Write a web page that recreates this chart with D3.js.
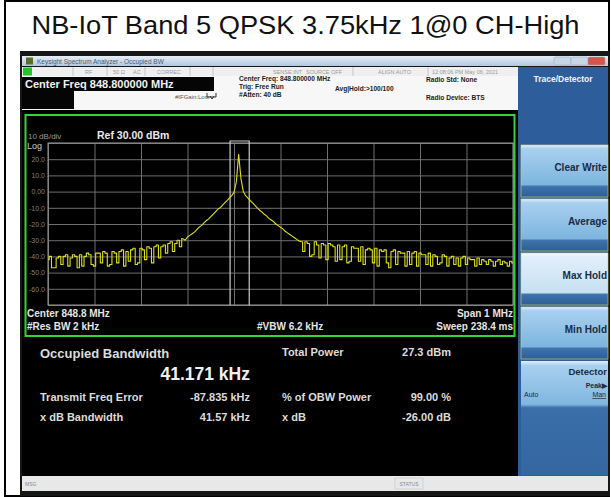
<!DOCTYPE html>
<html>
<head>
<meta charset="utf-8">
<script src="https://cdn.jsdelivr.net/npm/d3@7"></script>
<style>
  body { margin: 0; background: #fff; }
  svg text { font-family: "Liberation Sans", Arial, sans-serif; }
</style>
</head>
<body>
<div id="container"></div>
<script>

// Chart data
var chartTitle = "NB-IoT Band 5 QPSK 3.75kHz 1@0 CH-High";

var centerFreqMHz = 848.8,
    spanMHz = 1,
    refLevel = 30,
    bottomLevel = -70;

// Max Hold trace, one level per sweep point (dBm), 5 kHz apart from 848.3 MHz
var sweepStartMHz = 848.3,
    sweepStepkHz = 5;

var traceLevels = [
  -42, -40, -47, -47, -41, -40, -45, -40, -39, -46,
  -41, -39, -40, -47, -39, -46, -40, -38, -39, -45,
  -46, -38, -38, -44, -37, -38, -46, -45, -37, -38,
  -44, -37, -36, -46, -37, -43, -36, -35, -45, -44,
  -35, -36, -42, -34, -35, -44, -34, -33, -41, -34,
  -33, -38, -32, -31, -37, -32, -30, -34, -29, -30,
  -28, -27, -26, -25, -23.5, -22, -21, -19.5, -18, -17,
  -15.5, -14, -12.5, -11, -10, -8.5, -7, -5.5, -4, -2.5,
  -0.5, 6, 23, 8, 0, -2.5, -4, -5.5, -7, -8.5,
  -10, -11.5, -12.5, -14, -15, -16.5, -17.5, -18.5, -20, -21,
  -22, -23, -24.5, -25.5, -26.5, -27.5, -28.5, -29.5, -30.5,
  -31, -37, -31, -32, -40, -39, -31, -33, -41, -32,
  -33, -42, -32, -33, -34, -43, -33, -42, -34, -33,
  -44, -43, -34, -35, -35, -43, -34, -45, -36, -35,
  -36, -44, -35, -46, -36, -37, -36, -44, -47, -37,
  -36, -45, -37, -38, -38, -46, -37, -45, -38, -37,
  -46, -38, -39, -39, -45, -38, -46, -39, -40, -45,
  -44, -39, -40, -46, -41, -40, -45, -41, -46, -41,
  -40, -45, -41, -42, -42, -46, -41, -45, -42, -43,
  -45, -42, -43, -46, -43, -42, -45, -43, -44, -46, -43, -44
];

// sweep points where the trace leaves the noise floor (skirt of the carrier)
var skirtStart = 58,
    skirtEnd = 109;

// Occupied bandwidth measurement
var obwFreqErrorkHz = -87.835,
    obwWidthkHz = 41.171;

var yTickValues = [20, 10, 0, -10, -20, -30, -40, -50, -60];
var yTickLabels = ["20.0", "10.0", "0.00", "-10.0", "-20.0", "-30.0", "-40.0", "-50.0", "-60.0"];

var resultLeftNames = ["Transmit Freq Error", "x dB Bandwidth"];
var resultLeftValues = ["-87.835 kHz", "41.57 kHz"];
var resultRightNames = ["Total Power", "% of OBW Power", "x dB"];
var resultRightValues = ["27.3 dBm", "99.00 %", "-26.00 dB"];

var softkeyLabels = ["Clear Write", "Average", "Max Hold", "Min Hold"];
var activeSoftkey = "Max Hold";

var statusLeft = ["RF", "50 \u03A9", "AC", "CORREC"];
var statusRight = ["SENSE:INT", "SOURCE OFF", "ALIGN AUTO", "12:08:06 PM May 06, 2021"];


var width = 611,
    height = 497;

var svg = d3.select("#container").append("svg")
  .attr("width", width)
  .attr("height", height);

var defs = svg.append("defs");

function addGradient(id, stops) {
  var g = defs.append("linearGradient")
    .attr("id", id)
    .attr("x1", 0).attr("y1", 0)
    .attr("x2", 0).attr("y2", 1);
  stops.forEach(function(s) {
    g.append("stop").attr("offset", s[0]).attr("stop-color", s[1]);
  });
}

addGradient("keyGrad", [[0, "#e2f0fb"], [0.07, "#a8d0ef"], [0.76, "#7db5df"], [0.8, "#3c72ab"], [1, "#2e5e96"]]);
addGradient("keyGradActive", [[0, "#f6fafd"], [0.07, "#e2effa"], [0.76, "#c6e0f3"], [0.8, "#3c72ab"], [1, "#2e5e96"]]);
addGradient("detGrad", [[0, "#e2f0fb"], [0.04, "#a8d0ef"], [0.38, "#80b6df"], [0.41, "#3b6fa9"], [1, "#34669f"]]);
addGradient("titleBarGrad", [[0, "#e6eef7"], [1, "#b2c7de"]]);

// Outer frame and title
svg.append("rect")
  .attr("x", 5).attr("y", 1)
  .attr("width", 604).attr("height", 495)
  .attr("fill", "#fff")
  .attr("stroke", "#000")
  .attr("stroke-width", 2);

svg.append("text")
  .attr("x", width / 2)
  .attr("y", 34)
  .attr("text-anchor", "middle")
  .attr("textLength", 548)
  .attr("lengthAdjust", "spacingAndGlyphs")
  .style("font-size", "26px")
  .attr("fill", "#111")
  .text(chartTitle);

// Screenshot background
svg.append("rect")
  .attr("x", 20).attr("y", 51)
  .attr("width", 590).attr("height", 445)
  .attr("fill", "#161616");

// Window title bar
svg.append("rect")
  .attr("x", 22).attr("y", 56)
  .attr("width", 586).attr("height", 10)
  .attr("fill", "url(#titleBarGrad)");
svg.append("rect")
  .attr("x", 26).attr("y", 57.5)
  .attr("width", 7).attr("height", 7)
  .attr("fill", "#5a6e2a");
svg.append("text")
  .attr("x", 37).attr("y", 63.5)
  .style("font-size", "6.5px")
  .attr("fill", "#4a5a70")
  .text("Keysight Spectrum Analyzer - Occupied BW");

var winButtons = [["#c9d6e4", 554], ["#c9d6e4", 571], ["#d8544a", 588]];
winButtons.forEach(function(b) {
  svg.append("rect")
    .attr("x", b[1]).attr("y", 57)
    .attr("width", 17).attr("height", 8)
    .attr("rx", 1.5)
    .attr("fill", b[0])
    .attr("stroke", "#8fa3bb")
    .attr("stroke-width", 0.5);
});

// Status row
svg.append("rect")
  .attr("x", 22).attr("y", 67)
  .attr("width", 496).attr("height", 9)
  .attr("fill", "#efefef");
svg.append("rect")
  .attr("x", 23).attr("y", 67.5)
  .attr("width", 9).attr("height", 8)
  .attr("fill", "#27c427");

var statusSeparators = [73, 107, 145, 190, 213, 353, 428];
statusSeparators.forEach(function(x) {
  svg.append("line")
    .attr("x1", x).attr("x2", x)
    .attr("y1", 67).attr("y2", 76)
    .attr("stroke", "#bdbdbd")
    .attr("stroke-width", 0.8);
});

var statusLeftX = [85, 113, 133, 157];
statusLeft.forEach(function(t, i) {
  svg.append("text")
    .attr("x", statusLeftX[i]).attr("y", 74)
    .style("font-size", "5.5px")
    .attr("fill", "#9a9a9a")
    .text(t);
});
var statusRightX = [273, 306, 378, 432];
statusRight.forEach(function(t, i) {
  svg.append("text")
    .attr("x", statusRightX[i]).attr("y", 74)
    .style("font-size", "5.5px")
    .attr("fill", "#9a9a9a")
    .text(t);
});

// Header with settings
svg.append("rect")
  .attr("x", 22).attr("y", 76)
  .attr("width", 496).attr("height", 34)
  .attr("fill", "#f7f7f7");
svg.append("rect")
  .attr("x", 22).attr("y", 77)
  .attr("width", 192).attr("height", 14)
  .attr("fill", "#050505");
svg.append("rect")
  .attr("x", 22).attr("y", 91)
  .attr("width", 52).attr("height", 18)
  .attr("fill", "#050505");
svg.append("text")
  .attr("x", 25).attr("y", 88)
  .style("font-size", "11px")
  .style("font-weight", "bold")
  .attr("fill", "#f2f2f2")
  .text("Center Freq " + centerFreqMHz.toFixed(6) + " MHz");

svg.append("text")
  .attr("x", 175).attr("y", 99)
  .style("font-size", "6px")
  .attr("fill", "#555")
  .text("#IFGain:Low");
svg.append("path")
  .attr("d", "M207,93 L207,97 L216,97 L216,93 M210,96 L212,99 L214,96")
  .attr("fill", "none")
  .attr("stroke", "#333")
  .attr("stroke-width", 1);

var headerTexts = [
  ["Center Freq: " + centerFreqMHz.toFixed(6) + " MHz", 239, 81],
  ["Trig: Free Run", 239, 89],
  ["#Atten: 40 dB", 239, 97],
  ["Avg|Hold:>100/100", 335, 91],
  ["Radio Std: None", 426, 82],
  ["Radio Device: BTS", 426, 100]
];
headerTexts.forEach(function(h) {
  svg.append("text")
    .attr("x", h[1]).attr("y", h[2])
    .style("font-size", "6.6px")
    .style("font-weight", "bold")
    .attr("fill", "#1c1c1c")
    .text(h[0]);
});

// Display area
svg.append("rect")
  .attr("x", 22).attr("y", 110)
  .attr("width", 496).attr("height", 366)
  .attr("fill", "#000");

svg.append("rect")
  .attr("x", 25.5).attr("y", 115)
  .attr("width", 489).attr("height", 221)
  .attr("fill", "none")
  .attr("stroke", "#35d435")
  .attr("stroke-width", 2);

// Scales
var gridLeft = 48, gridRight = 513, gridTop = 143, gridBottom = 305;

var xScale = d3.scaleLinear()
  .domain([centerFreqMHz - spanMHz / 2, centerFreqMHz + spanMHz / 2])
  .range([gridLeft, gridRight]);

var yScale = d3.scaleLinear()
  .domain([bottomLevel, refLevel])
  .range([gridBottom, gridTop]);

// Graticule
var xGrid = d3.axisBottom(xScale)
  .ticks(10)
  .tickSize(-(gridBottom - gridTop))
  .tickFormat("");

svg.append("g")
  .attr("class", "grid x")
  .attr("transform", "translate(0," + gridBottom + ")")
  .call(xGrid)
  .call(function(g) { g.select(".domain").remove(); })
  .selectAll("line")
  .attr("stroke", "#6e6e6e")
  .attr("stroke-width", 1);

var yGrid = d3.axisLeft(yScale)
  .ticks(10)
  .tickSize(-(gridRight - gridLeft))
  .tickFormat("");

svg.append("g")
  .attr("class", "grid y")
  .attr("transform", "translate(" + gridLeft + ",0)")
  .call(yGrid)
  .call(function(g) { g.select(".domain").remove(); })
  .selectAll("line")
  .attr("stroke", "#6e6e6e")
  .attr("stroke-width", 1);

svg.append("rect")
  .attr("x", gridLeft).attr("y", gridTop)
  .attr("width", gridRight - gridLeft).attr("height", gridBottom - gridTop)
  .attr("fill", "none")
  .attr("stroke", "#9a9a9a")
  .attr("stroke-width", 1);

// Amplitude labels
var yLabels = d3.axisLeft(yScale)
  .tickValues(yTickValues)
  .tickSize(0)
  .tickPadding(3)
  .tickFormat(function(d, i) { return yTickLabels[i]; });

svg.append("g")
  .attr("class", "axis y")
  .attr("transform", "translate(" + gridLeft + ",0)")
  .call(yLabels)
  .call(function(g) { g.select(".domain").remove(); })
  .selectAll("text")
  .attr("fill", "#808080")
  .style("font-size", "7px")
  .style("font-family", "'Liberation Sans', Arial, sans-serif");

svg.append("text")
  .attr("x", 28).attr("y", 139)
  .style("font-size", "8px")
  .attr("fill", "#9a9a9a")
  .text("10 dB/div");
svg.append("text")
  .attr("x", 97).attr("y", 139)
  .style("font-size", "10.5px")
  .style("font-weight", "bold")
  .attr("fill", "#eaeaea")
  .text("Ref " + refLevel.toFixed(2) + " dBm");
svg.append("text")
  .attr("x", 27).attr("y", 149)
  .style("font-size", "9px")
  .attr("fill", "#cfcfcf")
  .text("Log");

// OBW markers
var obwCenter = centerFreqMHz + obwFreqErrorkHz / 1000;
var obwLeft = xScale(obwCenter - obwWidthkHz / 2000),
    obwRight = xScale(obwCenter + obwWidthkHz / 2000);

svg.append("path")
  .attr("d", "M" + obwLeft + "," + gridBottom + "V" + (gridTop - 2) + "H" + obwRight + "V" + gridBottom)
  .attr("fill", "none")
  .attr("stroke", "#c9c9c9")
  .attr("stroke-width", 1.2);

// Trace: noise floor drawn as held steps, carrier skirt as a straight line
function sweepX(d, i) {
  return xScale(sweepStartMHz + i * sweepStepkHz / 1000);
}

var noiseLine = d3.line()
  .defined(function(d, i) { return i <= skirtStart || i >= skirtEnd; })
  .x(sweepX)
  .y(function(d) { return yScale(d); })
  .curve(d3.curveStep);

var skirtLine = d3.line()
  .defined(function(d, i) { return i >= skirtStart && i <= skirtEnd; })
  .x(sweepX)
  .y(function(d) { return yScale(d); });

[noiseLine, skirtLine].forEach(function(l) {
  svg.append("path")
    .datum(traceLevels)
    .attr("d", l)
    .attr("fill", "none")
    .attr("stroke", "#dede1e")
    .attr("stroke-width", 1.1)
    .attr("stroke-linejoin", "round");
});

// Frequency annotations
var bottomTexts = [
  ["Center  " + centerFreqMHz + " MHz", 27, 317, "start"],
  ["#Res BW  2 kHz", 27, 330, "start"],
  ["#VBW  6.2 kHz", 257, 330, "start"],
  ["Span  " + spanMHz + " MHz", 513, 317, "end"],
  ["Sweep  238.4 ms", 513, 330, "end"]
];
bottomTexts.forEach(function(b) {
  svg.append("text")
    .attr("x", b[1]).attr("y", b[2])
    .attr("text-anchor", b[3])
    .style("font-size", "10px")
    .style("font-weight", "bold")
    .attr("fill", "#e6e6e6")
    .text(b[0]);
});

// Measurement results
svg.append("text")
  .attr("x", 40).attr("y", 358)
  .style("font-size", "13px")
  .style("font-weight", "bold")
  .attr("fill", "#dcdcdc")
  .text("Occupied Bandwidth");
svg.append("text")
  .attr("x", 250).attr("y", 380)
  .attr("text-anchor", "end")
  .style("font-size", "17.5px")
  .style("font-weight", "bold")
  .attr("fill", "#f0f0f0")
  .text(obwWidthkHz.toFixed(3) + " kHz");

resultLeftNames.forEach(function(n, i) {
  svg.append("text")
    .attr("x", 40).attr("y", 401 + i * 20)
    .style("font-size", "11px")
    .style("font-weight", "bold")
    .attr("fill", "#dcdcdc")
    .text(n);
  svg.append("text")
    .attr("x", 250).attr("y", 401 + i * 20)
    .attr("text-anchor", "end")
    .style("font-size", "11px")
    .style("font-weight", "bold")
    .attr("fill", "#dcdcdc")
    .text(resultLeftValues[i]);
});

var rightRowsY = [356, 401, 421];
resultRightNames.forEach(function(n, i) {
  svg.append("text")
    .attr("x", 282).attr("y", rightRowsY[i])
    .style("font-size", "11px")
    .style("font-weight", "bold")
    .attr("fill", "#dcdcdc")
    .text(n);
  svg.append("text")
    .attr("x", 451).attr("y", rightRowsY[i])
    .attr("text-anchor", "end")
    .style("font-size", "11px")
    .style("font-weight", "bold")
    .attr("fill", "#dcdcdc")
    .text(resultRightValues[i]);
});

// Bottom status bar
svg.append("rect")
  .attr("x", 22).attr("y", 476)
  .attr("width", 586).attr("height", 15)
  .attr("fill", "#e8e8e8");
svg.append("text")
  .attr("x", 25).attr("y", 486)
  .style("font-size", "5px")
  .attr("fill", "#888")
  .text("MSG");
svg.append("rect")
  .attr("x", 395).attr("y", 478)
  .attr("width", 28).attr("height", 11)
  .attr("fill", "none")
  .attr("stroke", "#c4c4c4")
  .attr("stroke-width", 0.6);
svg.append("text")
  .attr("x", 409).attr("y", 486)
  .attr("text-anchor", "middle")
  .style("font-size", "5px")
  .attr("fill", "#888")
  .text("STATUS");

// Softkey panel
svg.append("rect")
  .attr("x", 518).attr("y", 67)
  .attr("width", 90).attr("height", 409)
  .attr("fill", "#2d5e9b");
svg.append("text")
  .attr("x", 563).attr("y", 82)
  .attr("text-anchor", "middle")
  .style("font-size", "8.5px")
  .style("font-weight", "bold")
  .attr("fill", "#eef3fa")
  .text("Trace/Detector");

var keys = svg.selectAll(".softkey")
  .data(softkeyLabels)
  .enter()
  .append("g")
  .attr("class", "softkey")
  .attr("transform", function(d, i) { return "translate(521," + (145 + i * 54) + ")"; });

keys.append("rect")
  .attr("width", 87)
  .attr("height", 52)
  .attr("fill", function(d) { return d === activeSoftkey ? "url(#keyGradActive)" : "url(#keyGrad)"; })
  .attr("stroke", "#d8d86a")
  .attr("stroke-width", 0.6);

keys.append("text")
  .attr("x", 86)
  .attr("y", 26)
  .attr("text-anchor", "end")
  .style("font-size", "10px")
  .style("font-weight", "bold")
  .attr("fill", "#1a2b45")
  .text(function(d) { return d; });

svg.append("rect")
  .attr("x", 521).attr("y", 361)
  .attr("width", 87).attr("height", 114)
  .attr("fill", "url(#detGrad)");
svg.append("text")
  .attr("x", 607).attr("y", 375)
  .attr("text-anchor", "end")
  .style("font-size", "9.5px")
  .style("font-weight", "bold")
  .attr("fill", "#1a2b45")
  .text("Detector");
svg.append("text")
  .attr("x", 607).attr("y", 388)
  .attr("text-anchor", "end")
  .style("font-size", "7px")
  .style("font-weight", "bold")
  .attr("fill", "#1a2b45")
  .text("Peak\u25B6");
svg.append("text")
  .attr("x", 524).attr("y", 397)
  .style("font-size", "7px")
  .attr("fill", "#1a2b45")
  .text("Auto");
svg.append("text")
  .attr("x", 606).attr("y", 397)
  .attr("text-anchor", "end")
  .style("font-size", "7px")
  .style("text-decoration", "underline")
  .attr("fill", "#1a2b45")
  .text("Man");

</script>
</body>
</html>
